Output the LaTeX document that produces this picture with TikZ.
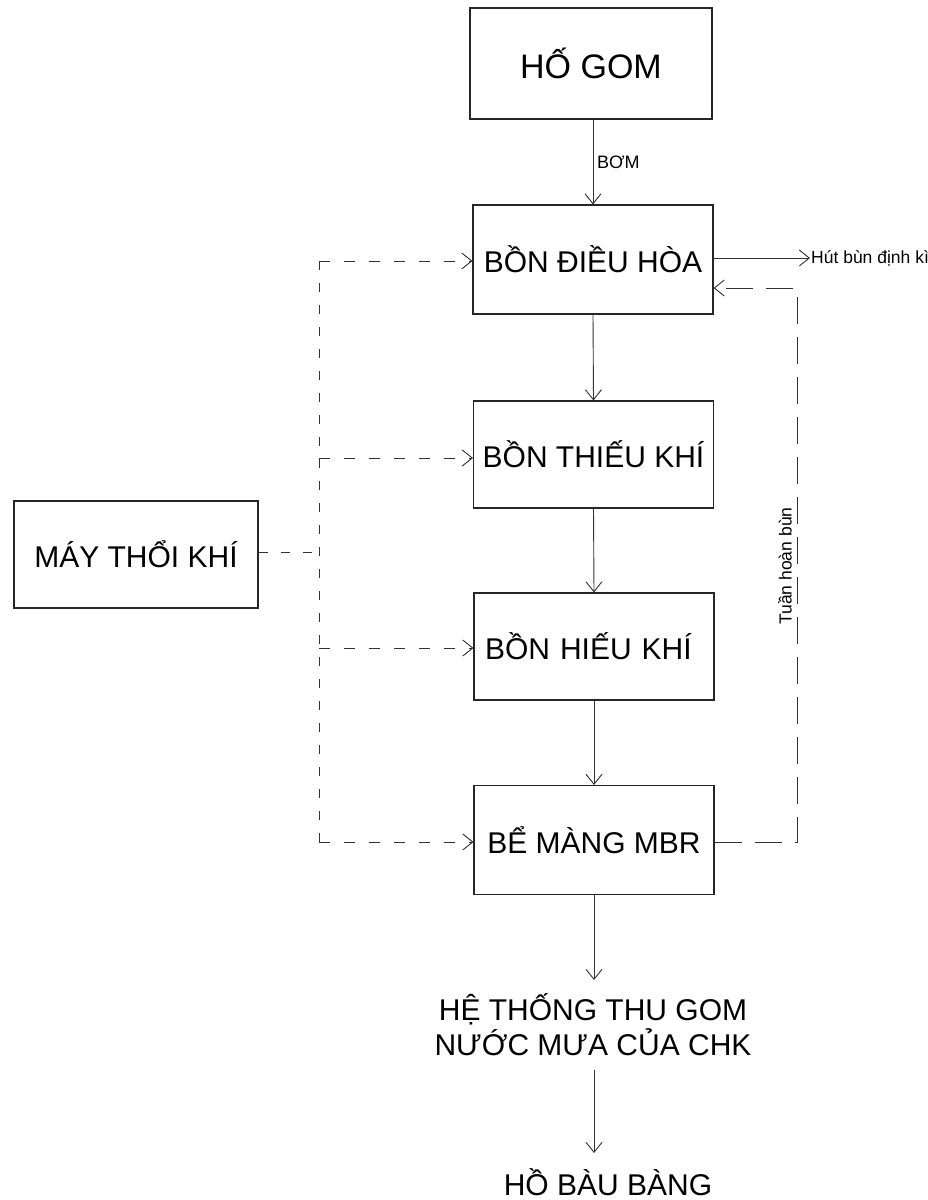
\documentclass[tikz,border=0pt]{standalone}
\usepackage{fontspec}
\setmainfont{Liberation Sans}
\usetikzlibrary{arrows.meta}
\begin{document}
\begin{tikzpicture}[x=1pt,y=-1pt,
  box/.style={draw=black!85, line width=1.1pt, minimum width=240pt, minimum height=109pt, inner sep=0pt, font=\fontsize{30}{35}\selectfont},
  flow/.style={draw=black!80, line width=0.9pt, -{Straight Barb[length=10pt,width=16pt]}},
  air/.style={flow, dash pattern=on 11pt off 14pt},
  airline/.style={draw=black!80, line width=0.9pt, dash pattern=on 9pt off 13pt},
  ret/.style={flow, dash pattern=on 27pt off 13pt},
  big/.style={font=\fontsize{30}{35}\selectfont, inner sep=0pt},
  small/.style={font=\fontsize{17.5}{20}\selectfont, inner sep=1pt}]
\useasboundingbox (0,0) rectangle (928,1200);

% boxes
\node[box, minimum width=242pt, minimum height=111pt, font=\fontsize{34}{40}\selectfont] (hogom) at (591,63.5) {HỐ GOM};
\node[box] (dieuhoa) at (593,259.5) {BỒN ĐIỀU HÒA};
\node[box, minimum height=107pt] (thieukhi) at (593.5,454.5) {BỒN THIẾU KHÍ};
\node[box, minimum height=107pt, text width=240pt, align=left] (hieukhi) at (594,646.5) {\hspace*{11pt}BỒN HIẾU KHÍ};
\node[box] (mbr) at (594,840) {BỂ MÀNG MBR};
\node[box, minimum width=244pt, minimum height=107pt] (may) at (136,554.5) {MÁY THỔI KHÍ};

% outputs
\node[big, align=center] (hethong) at (593,1025) {HỆ THỐNG THU GOM\\NƯỚC MƯA CỦA CHK};
\node[big, anchor=base] (ho) at (608,1195) {HỒ BÀU BÀNG};

% main flow
\draw[flow] (dieuhoa.north |- hogom.south) -- (dieuhoa.north);
\node[small, anchor=west, font=\fontsize{18}{21}\selectfont] (bom) at (596,162) {BƠM};
\draw[flow] (dieuhoa.south) -- (thieukhi.north);
\draw[flow] (thieukhi.south) -- (hieukhi.north);
\draw[flow] (hieukhi.south) -- (mbr.north);
\coordinate (e1) at (594,980);
\coordinate (s2) at (594,1070);
\coordinate (e2) at (594,1153);
\draw[flow] (mbr.south) -- (e1);
\draw[flow] (s2) -- (e2);

% sludge removal
\node[small, anchor=west] (hutbun) at (810,258) {Hút bùn định kì};
\draw[flow] (dieuhoa.east |- hutbun.west) -- (hutbun.west);

% sludge recycle
\coordinate (r1) at (797,842);
\coordinate (r2) at (797,288);
\draw[ret] (mbr.east |- r1) -- (r1) -- (r2) -- (dieuhoa.east |- r2);
\node[small, rotate=90] (tuan) at (785,566) {Tuần hoàn bùn};

% air supply
\coordinate (lt) at (319,261);
\coordinate (lm) at (319,552);
\coordinate (lb) at (319,842);
\coordinate (l2) at (319,458);
\coordinate (l3) at (319,648);
\draw[airline] (may.east |- lm) -- (lm);
\draw[airline] (lt) -- (lb);
\draw[air] (lt) -- (dieuhoa.west |- lt);
\draw[air] (l2) -- (thieukhi.west |- l2);
\draw[air] (l3) -- (hieukhi.west |- l3);
\draw[air] (lb) -- (mbr.west |- lb);
\end{tikzpicture}
\end{document}
